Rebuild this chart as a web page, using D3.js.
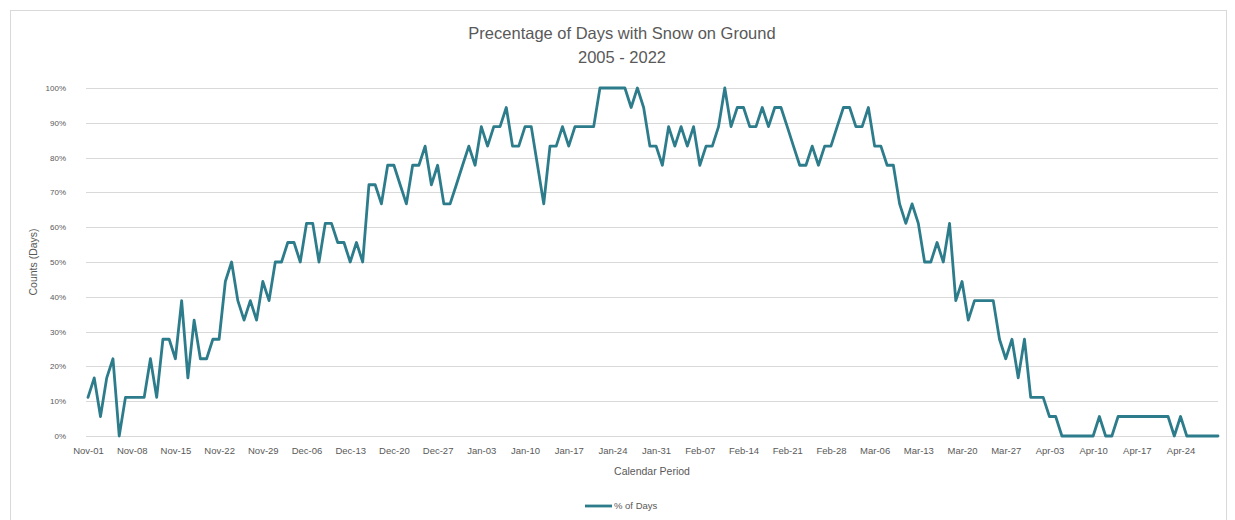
<!DOCTYPE html>
<html>
<head>
<meta charset="utf-8">
<script src="https://cdn.jsdelivr.net/npm/d3@7"></script>
<style>
  html, body { margin: 0; padding: 0; background: #ffffff; }
  svg { display: block; font-family: "Liberation Sans", "DejaVu Sans", sans-serif; }
</style>
</head>
<body>
<svg id="chart" width="1235" height="520"></svg>
<script>
// Season calendar: Nov-01 through Apr-30 (leap-year February)
const seasonStart = new Date(2019, 10, 1);
const seasonEnd = new Date(2020, 4, 1);
const days = d3.timeDay.range(seasonStart, seasonEnd);
const fmtDay = d3.timeFormat("%b-%d");
const categories = days.map(fmtDay);

// Share of seasons (2005-2022) with snow on the ground, per calendar day (%)
const pctDays = [
  11.1, 16.7, 5.6, 16.7, 22.2, 0, 11.1, 11.1, 11.1, 11.1, 22.2, 11.1, 27.8, 27.8,
  22.2, 38.9, 16.7, 33.3, 22.2, 22.2, 27.8, 27.8, 44.4, 50, 38.9, 33.3, 38.9, 33.3,
  44.4, 38.9, 50, 50, 55.6, 55.6, 50, 61.1, 61.1, 50, 61.1, 61.1, 55.6, 55.6,
  50, 55.6, 50, 72.2, 72.2, 66.7, 77.8, 77.8, 72.2, 66.7, 77.8, 77.8, 83.3, 72.2,
  77.8, 66.7, 66.7, 72.2, 77.8, 83.3, 77.8, 88.9, 83.3, 88.9, 88.9, 94.4, 83.3, 83.3,
  88.9, 88.9, 77.8, 66.7, 83.3, 83.3, 88.9, 83.3, 88.9, 88.9, 88.9, 88.9, 100, 100,
  100, 100, 100, 94.4, 100, 94.4, 83.3, 83.3, 77.8, 88.9, 83.3, 88.9, 83.3, 88.9,
  77.8, 83.3, 83.3, 88.9, 100, 88.9, 94.4, 94.4, 88.9, 88.9, 94.4, 88.9, 94.4, 94.4,
  88.9, 83.3, 77.8, 77.8, 83.3, 77.8, 83.3, 83.3, 88.9, 94.4, 94.4, 88.9, 88.9, 94.4,
  83.3, 83.3, 77.8, 77.8, 66.7, 61.1, 66.7, 61.1, 50, 50, 55.6, 50, 61.1, 38.9,
  44.4, 33.3, 38.9, 38.9, 38.9, 38.9, 27.8, 22.2, 27.8, 16.7, 27.8, 11.1, 11.1, 11.1,
  5.6, 5.6, 0, 0, 0, 0, 0, 0, 5.6, 0, 0, 5.6, 5.6, 5.6,
  5.6, 5.6, 5.6, 5.6, 5.6, 5.6, 0, 5.6, 0, 0, 0, 0, 0, 0
];

const yTicks = [0, 10, 20, 30, 40, 50, 60, 70, 80, 90, 100];
const seriesName = "% of Days";
const titleLines = ["Precentage of Days with Snow on Ground", "2005 - 2022"];

const series = categories.map((c, i) => ({ cat: c, value: pctDays[i] }));

const svg = d3.select("#chart");
const textColor = "#595959";
const gridColor = "#d9d9d9";
const lineColor = "#2d7c8b";

// outer chart frame
svg.append("rect")
  .attr("x", 10.5).attr("y", 10.5)
  .attr("width", 1216).attr("height", 530)
  .attr("fill", "#ffffff")
  .attr("stroke", "#d9d9d9").attr("stroke-width", 1);

const plot = { left: 88, right: 1218, top: 88, bottom: 436 };

const x = d3.scalePoint()
  .domain(categories)
  .range([plot.left, plot.right]);

const y = d3.scaleLinear()
  .domain([0, 100])
  .range([plot.bottom, plot.top]);

// horizontal gridlines
svg.append("g")
  .selectAll("line")
  .data(yTicks)
  .join("line")
  .attr("x1", plot.left - 2).attr("x2", plot.right)
  .attr("y1", d => Math.round(y(d)) + 0.5)
  .attr("y2", d => Math.round(y(d)) + 0.5)
  .attr("stroke", gridColor).attr("stroke-width", 1);

// y axis labels
const yAxis = d3.axisLeft(y)
  .tickValues(yTicks)
  .tickFormat(d => d + "%")
  .tickSize(0)
  .tickPadding(0);
const gy = svg.append("g")
  .attr("transform", `translate(${plot.left - 22},0)`)
  .call(yAxis);
gy.select(".domain").remove();
gy.selectAll("text")
  .attr("fill", textColor)
  .style("font-size", "8px");

// x axis labels, one per week
const xAxis = d3.axisBottom(x)
  .tickValues(categories.filter((c, i) => i % 7 === 0))
  .tickSize(0)
  .tickPadding(0);
const gx = svg.append("g")
  .attr("transform", `translate(0,${plot.bottom + 11})`)
  .call(xAxis);
gx.select(".domain").remove();
gx.selectAll("text")
  .attr("fill", textColor)
  .style("font-size", "9.5px");

// data line
const line = d3.line()
  .x(d => x(d.cat))
  .y(d => y(d.value));

svg.append("path")
  .datum(series)
  .attr("fill", "none")
  .attr("stroke", lineColor)
  .attr("stroke-width", 2.8)
  .attr("stroke-linejoin", "round")
  .attr("stroke-linecap", "round")
  .attr("d", line);

// titles
svg.append("text")
  .attr("x", 622).attr("y", 39)
  .attr("text-anchor", "middle")
  .attr("fill", textColor)
  .style("font-size", "16.5px")
  .text(titleLines[0]);
svg.append("text")
  .attr("x", 622).attr("y", 63)
  .attr("text-anchor", "middle")
  .attr("fill", textColor)
  .style("font-size", "16.5px")
  .text(titleLines[1]);

// axis titles
svg.append("text")
  .attr("transform", `translate(37,${(plot.top + plot.bottom) / 2}) rotate(-90)`)
  .attr("text-anchor", "middle")
  .attr("fill", textColor)
  .style("font-size", "10.5px")
  .text("Counts (Days)");

svg.append("text")
  .attr("x", 652).attr("y", 475)
  .attr("text-anchor", "middle")
  .attr("fill", textColor)
  .style("font-size", "10.5px")
  .text("Calendar Period");

// legend
const legend = svg.append("g").attr("transform", "translate(585,506)");
legend.append("line")
  .attr("x1", 0).attr("x2", 27)
  .attr("y1", 0).attr("y2", 0)
  .attr("stroke", lineColor).attr("stroke-width", 2.8);
legend.append("text")
  .attr("x", 29).attr("y", 3)
  .attr("fill", textColor)
  .style("font-size", "9.5px")
  .text(seriesName);
</script>
</body>
</html>
